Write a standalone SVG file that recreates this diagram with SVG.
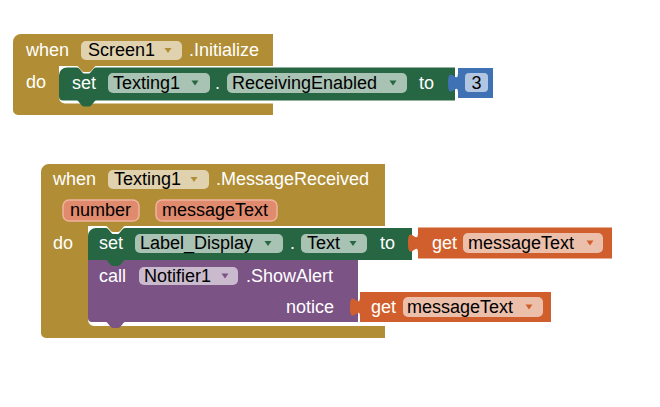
<svg xmlns="http://www.w3.org/2000/svg" width="660" height="407" viewBox="0 0 660 407">
<style>
text{font-family:"Liberation Sans",Arial,sans-serif;font-size:18px}
.w{fill:#fff}
.k{fill:#000}
.ev{fill:#b18e35}
.set{fill:#266643}
.meth{fill:#7c5385}
.var{fill:#d05f2d}
.num{fill:#3f71b5}
.dd{fill:#fff;fill-opacity:0.6}
.pill{fill:#e08a6e;stroke:#f0b39d;stroke-width:1.5}
.tev{fill:#b18e35}
.tset{fill:#266643}
.tmeth{fill:#7c5385}
.tvar{fill:#d05f2d}
</style>
<rect width="660" height="407" fill="#fff"/>

<g id="event-screen1-initialize">
<path class="ev" d="M13,42 a8,8 0 0 1 8,-8 H273 V66 H96 c-2,0 -4,6 -7,6 h-5 c-3,0 -5,-6 -7,-6 H59 V97.5 a6,6 0 0 0 6,6 H273 V115 H18 a5,5 0 0 1 -5,-5 Z"/>
<text class="w" x="26" y="56">when</text>
<rect class="dd" x="81" y="41" width="101" height="19" rx="5"/>
<text class="k" x="88" y="56">Screen1</text>
<polygon class="tev" points="164.5,48 171.5,48 168,53"/>
<text class="w" x="189" y="56">.Initialize</text>
<text class="w" x="26" y="88">do</text>
</g>

<g id="set-texting1-receivingenabled">
<path class="set" d="M59,75.5 a8,8 0 0 1 8,-8 H77 c3,0 5,6 7,6 h5 c2,0 4,-6 7,-6 H455 V100.5 H96 c-2,0 -4,6 -7,6 h-5 c-3,0 -5,-6 -7,-6 H63 a4,4 0 0 1 -4,-4 Z"/>
<text class="w" x="72" y="89">set</text>
<rect class="dd" x="108" y="73" width="102" height="20" rx="5"/>
<text class="k" x="113" y="89">Texting1</text>
<polygon class="tset" points="191.5,80.5 198.5,80.5 195,85.5"/>
<text class="w" x="215" y="89">.</text>
<rect class="dd" x="227" y="73" width="180" height="20" rx="5"/>
<text class="k" x="232" y="89">ReceivingEnabled</text>
<polygon class="tset" points="389.5,80.5 396.5,80.5 393,85.5"/>
<text class="w" x="419" y="89">to</text>
</g>

<g id="number-3">
<path class="num" d="M493,68 H458 V73 c0,13 -10,-10 -10,10 s10,-3 10,10 V98 H493 Z"/>
<rect class="dd" x="465" y="73" width="23" height="19" rx="4"/>
<text class="k" x="476.5" y="89" text-anchor="middle">3</text>
</g>

<g id="event-texting1-messagereceived">
<path class="ev" d="M41,172 a8,8 0 0 1 8,-8 H385 V226 H125 c-2,0 -4,6 -7,6 h-5 c-3,0 -5,-6 -7,-6 H88 V320 a6,6 0 0 0 6,6 H385 V338 H46 a5,5 0 0 1 -5,-5 Z"/>
<text class="w" x="53" y="185">when</text>
<rect class="dd" x="108" y="170" width="101" height="19" rx="5"/>
<text class="k" x="114" y="185">Texting1</text>
<polygon class="tev" points="190.5,177 197.5,177 194,182"/>
<text class="w" x="216" y="185">.MessageReceived</text>
<rect class="pill" x="63" y="200" width="76" height="21" rx="6"/>
<text class="k" x="70" y="216">number</text>
<rect class="pill" x="156" y="200" width="121" height="21" rx="6"/>
<text class="k" x="162" y="216">messageText</text>
<text class="w" x="53" y="249">do</text>
</g>

<g id="call-notifier1-showalert">
<path class="meth" d="M88,260 H358 V322 H125 c-2,0 -4,6 -7,6 h-5 c-3,0 -5,-6 -7,-6 H92 a4,4 0 0 1 -4,-4 Z"/>
<text class="w" x="99" y="282">call</text>
<rect class="dd" x="139" y="267" width="99" height="18" rx="5"/>
<text class="k" x="144" y="282">Notifier1</text>
<polygon class="tmeth" points="221.5,273.5 228.5,273.5 225,278.5"/>
<text class="w" x="246" y="282">.ShowAlert</text>
<text class="w" x="286" y="313">notice</text>
</g>

<g id="set-label-display-text">
<path class="set" d="M88,236 a8,8 0 0 1 8,-8 H106 c3,0 5,6 7,6 h5 c2,0 4,-6 7,-6 H412 V260 H125 c-2,0 -4,6 -7,6 h-5 c-3,0 -5,-6 -7,-6 H88 Z"/>
<text class="w" x="99" y="249">set</text>
<rect class="dd" x="135" y="234" width="148" height="19" rx="5"/>
<text class="k" x="140" y="249">Label_Display</text>
<polygon class="tset" points="264.5,241 271.5,241 268,246"/>
<text class="w" x="290" y="249">.</text>
<rect class="dd" x="301" y="234" width="66" height="19" rx="5"/>
<text class="k" x="307" y="249">Text</text>
<polygon class="tset" points="349.5,241 356.5,241 353,246"/>
<text class="w" x="380" y="249">to</text>
</g>

<g id="get-messagetext-1">
<path class="var" d="M612,227.5 H418 V233 c0,13 -10,-10 -10,10 s10,-3 10,10 V258.5 H612 Z"/>
<text class="w" x="432" y="249">get</text>
<rect class="dd" x="463" y="233" width="140" height="20" rx="5"/>
<text class="k" x="468" y="249">messageText</text>
<polygon class="tvar" points="586.5,240.5 593.5,240.5 590,245.5"/>
</g>

<g id="get-messagetext-2">
<path class="var" d="M551,292 H360 V297 c0,13 -10,-10 -10,10 s10,-3 10,10 V322 H551 Z"/>
<text class="w" x="371" y="313">get</text>
<rect class="dd" x="403" y="297" width="140" height="20" rx="5"/>
<text class="k" x="407" y="313">messageText</text>
<polygon class="tvar" points="525.5,304.5 532.5,304.5 529,309.5"/>
</g>

<g id="connectors"></g>
</svg>
